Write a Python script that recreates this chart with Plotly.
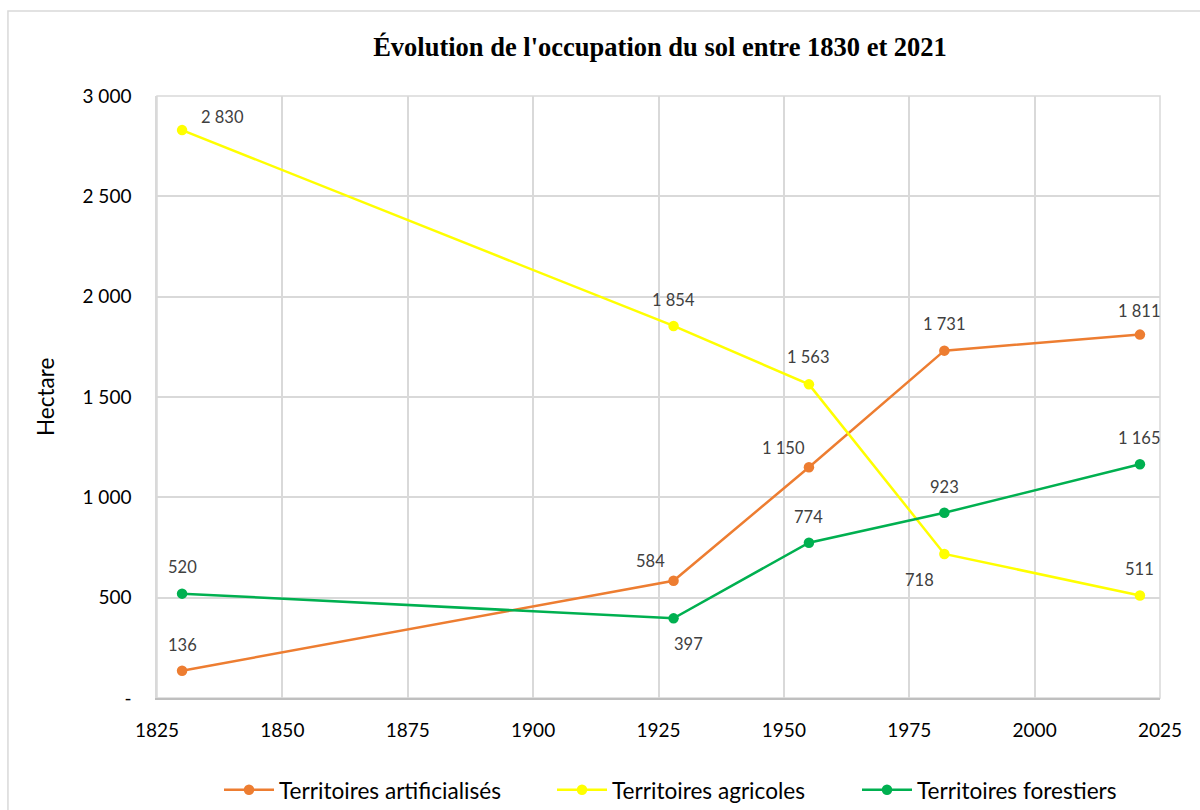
import plotly.graph_objects as go

# Survey years and land-use areas (hectares)
years = [1830, 1928, 1955, 1982, 2021]
artificialises = [136, 584, 1150, 1731, 1811]
agricoles = [2830, 1854, 1563, 718, 511]
forestiers = [520, 397, 774, 923, 1165]

series_names = ["Territoires artificialisés", "Territoires agricoles", "Territoires forestiers"]
series_values = [artificialises, agricoles, forestiers]
series_colors = ["#ED7D31", "#FFFF00", "#00B050"]

# Label placement (pixel offsets from each point), per series
label_offsets = [
    [(0, 26), (-23, 20), (-25, 19), (0, 27), (0, 24)],
    [(40, 13), (0, 26), (0, 27), (-25, -26), (0, 26)],
    [(0, 27), (15, -26), (0, 26), (0, 26), (0, 26)],
]

y_ticks = [0, 500, 1000, 1500, 2000, 2500, 3000]
x_ticks = [1825, 1850, 1875, 1900, 1925, 1950, 1975, 2000, 2025]

# Left edge (px) of each legend entry along the bottom row
legend_left_px = [222, 555, 860]

PLOT_L, PLOT_R, PLOT_T, PLOT_B = 157, 1160, 96, 698
W, H = 1200, 810


def fmt(v):
    if v == 0:
        return "-"
    return f"{v:,}".replace(",", " ")


BODY_FONT = "Lato, 'Open Sans', sans-serif"
legend_ids = ["legend", "legend2", "legend3"]

fig = go.Figure()
for name, vals, color, lid in zip(series_names, series_values, series_colors, legend_ids):
    fig.add_trace(go.Scatter(
        x=years, y=vals, name=name, mode="lines+markers",
        line=dict(color=color, width=2.5),
        marker=dict(color=color, size=10.5),
        cliponaxis=False, legend=lid, showlegend=True,
    ))

annotations = []
for vals, offs in zip(series_values, label_offsets):
    for x, v, (dx, dy) in zip(years, vals, offs):
        annotations.append(dict(
            x=x, y=v, xref="x", yref="y", text=fmt(v), showarrow=False,
            xshift=dx, yshift=dy,
            font=dict(family=BODY_FONT, size=16.5, color="#404040"),
        ))

# Vertical axis caption
annotations.append(dict(
    x=(45 - PLOT_L) / (PLOT_R - PLOT_L), y=0.5, xref="paper", yref="paper",
    xanchor="center", yanchor="middle", text="Hectare",
    textangle=-90, showarrow=False,
    font=dict(family=BODY_FONT, size=22.5, color="#000000"),
))

shapes = [
    # chart frame
    dict(type="rect", xref="paper", yref="paper",
         x0=-0.1486, y0=-0.25, x1=1.1, y1=1.1412,
         line=dict(color="#D9D9D9", width=1.5), layer="below"),
    # plot area frame
    dict(type="rect", xref="paper", yref="paper",
         x0=0, y0=0, x1=1, y1=1,
         line=dict(color="#D9D9D9", width=1.5), layer="below"),
]

legend_common = dict(
    orientation="h", xanchor="left", yanchor="middle",
    xref="container", yref="container", y=1 - 790 / H,
    font=dict(family=BODY_FONT, size=22.6, color="#000000"),
    itemwidth=50, bgcolor="rgba(0,0,0,0)", borderwidth=0,
    visible=True,
)
legends = {}
for lid, px in zip(legend_ids, legend_left_px):
    legends[lid] = dict(legend_common, x=(px - 3) / W)

fig.update_layout(
    width=W, height=H,
    showlegend=True,
    margin=dict(l=PLOT_L, r=W - PLOT_R, t=PLOT_T, b=H - PLOT_B, autoexpand=False),
    paper_bgcolor="white", plot_bgcolor="white",
    title=dict(
        text="<b>Évolution de l'occupation du sol entre 1830 et 2021</b>",
        x=0.55, xref="container", xanchor="center",
        y=1 - 47 / H, yref="container", yanchor="middle",
        font=dict(family="'Liberation Serif', 'Times New Roman', serif", size=26.5, color="#000000"),
    ),
    xaxis=dict(
        range=[1825, 2025], tickvals=x_ticks, ticktext=[str(t) for t in x_ticks],
        showgrid=True, gridcolor="#D9D9D9", gridwidth=1.5,
        showline=True, linecolor="#BFBFBF", linewidth=1.5,
        zeroline=False, ticks="", ticklabelstandoff=14,
        tickfont=dict(family=BODY_FONT, size=19, color="#000000"),
    ),
    yaxis=dict(
        range=[0, 3000], tickvals=y_ticks, ticktext=[fmt(t) for t in y_ticks],
        showgrid=True, gridcolor="#D9D9D9", gridwidth=1.5,
        showline=True, linecolor="#D9D9D9", linewidth=1.5,
        zeroline=False, ticks="", ticklabelstandoff=20,
        tickfont=dict(family=BODY_FONT, size=19, color="#000000"),
    ),
    annotations=annotations,
    shapes=shapes,
    **legends,
)

fig.write_html("out.html")
